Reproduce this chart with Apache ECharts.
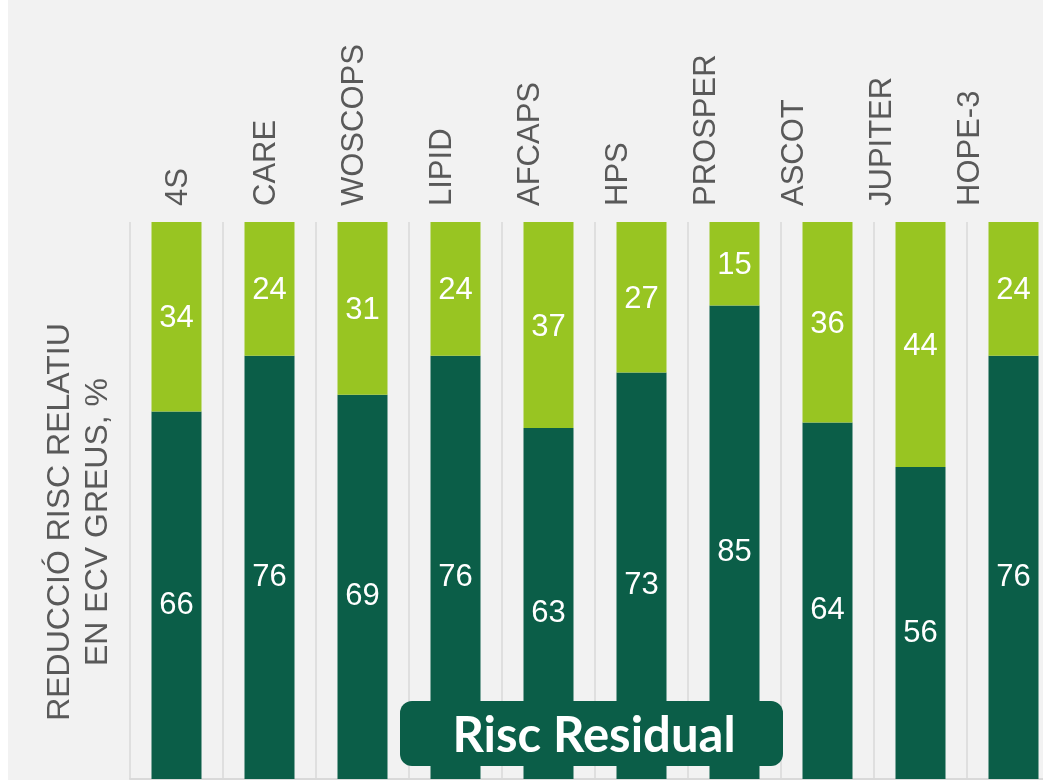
<!DOCTYPE html>
<html>
<head>
<meta charset="utf-8">
<script src="https://cdn.jsdelivr.net/npm/echarts@6/dist/echarts.min.js"></script>
<style>
  html, body { margin: 0; padding: 0; background: #ffffff; }
  #chart { width: 1043px; height: 781px; }
</style>
</head>
<body>
<div id="chart"></div>
<script>
// Studies (column headers) and the two stacked shares per study, in %
const studies = ['4S', 'CARE', 'WOSCOPS', 'LIPID', 'AFCAPS', 'HPS', 'PROSPER', 'ASCOT', 'JUPITER', 'HOPE-3'];
const residualRisk = [66, 76, 69, 76, 63, 73, 85, 64, 56, 76];
const riskReduction = [34, 24, 31, 24, 37, 27, 15, 36, 44, 24];
const yTitleLines = ['REDUCCIÓ RISC RELATIU', 'EN ECV GREUS, %'];
const boxLabel = 'Risc Residual';

const DARK = '#0b5e48';
const LIGHT = '#98c522';
const GRID_LINE = '#d9d9d9';
const TEXT_GREY = '#595959';
const SANS = '"Liberation Sans", Arial, sans-serif';

const chart = echarts.init(document.getElementById('chart'), null, { renderer: 'canvas' });

chart.setOption({
  animation: false,
  backgroundColor: 'transparent',
  grid: [
    // bars and column separators (last column runs past the right edge)
    { left: 130, width: 930, top: 222, bottom: 2, outerBoundsMode: 'none' },
    // column headers
    { left: 134, right: 29, top: 222, bottom: 2, outerBoundsMode: 'none' }
  ],
  xAxis: [
    {
      type: 'category',
      gridIndex: 0,
      position: 'top',
      data: studies,
      axisLine: { show: true, lineStyle: { color: GRID_LINE, width: 2 } },
      axisTick: { show: false },
      axisLabel: { show: false },
      splitLine: { show: true, lineStyle: { color: GRID_LINE, width: 1.5 } }
    },
    {
      type: 'category',
      gridIndex: 1,
      position: 'top',
      data: studies,
      axisLine: { show: false },
      axisTick: { show: false },
      splitLine: { show: false },
      axisLabel: {
        rotate: 90,
        margin: 16,
        interval: 0,
        fontSize: 31,
        fontFamily: SANS,
        color: TEXT_GREY
      }
    }
  ],
  yAxis: [
    { type: 'value', gridIndex: 0, min: 0, max: 100, show: false },
    { type: 'value', gridIndex: 1, min: 0, max: 100, show: false }
  ],
  series: [
    {
      name: 'Risc residual',
      type: 'bar',
      stack: 'total',
      xAxisIndex: 0,
      yAxisIndex: 0,
      barWidth: 50,
      data: residualRisk,
      itemStyle: { color: DARK },
      label: {
        show: true,
        position: 'inside',
        offset: [0, 10],
        color: '#ffffff',
        fontSize: 31,
        fontFamily: SANS
      }
    },
    {
      name: 'Reducció risc relatiu',
      type: 'bar',
      stack: 'total',
      xAxisIndex: 0,
      yAxisIndex: 0,
      barWidth: 50,
      data: riskReduction,
      itemStyle: { color: LIGHT },
      label: {
        show: true,
        position: 'inside',
        offset: [0, 2],
        color: '#ffffff',
        fontSize: 31,
        fontFamily: SANS
      }
    }
  ],
  graphic: [
    {
      type: 'rect',
      silent: true,
      z: -100,
      shape: { x: 8, y: 0, width: 1035, height: 780 },
      style: { fill: '#f2f2f2' }
    },
    {
      type: 'text',
      silent: true,
      x: 79,
      y: 522,
      rotation: Math.PI / 2,
      z: 10,
      style: {
        text: yTitleLines.join('\n'),
        fill: TEXT_GREY,
        font: '32px ' + SANS,
        lineHeight: 38,
        align: 'center',
        verticalAlign: 'middle'
      }
    },
    {
      type: 'rect',
      silent: true,
      z: 100,
      shape: { x: 400, y: 701, width: 383, height: 65, r: 12 },
      style: { fill: DARK }
    },
    {
      type: 'text',
      silent: true,
      z: 101,
      x: 594,
      y: 736,
      style: {
        text: boxLabel,
        fill: '#ffffff',
        font: 'bold 49px Lato, "Open Sans", sans-serif',
        align: 'center',
        verticalAlign: 'middle'
      }
    }
  ]
});
</script>
</body>
</html>
